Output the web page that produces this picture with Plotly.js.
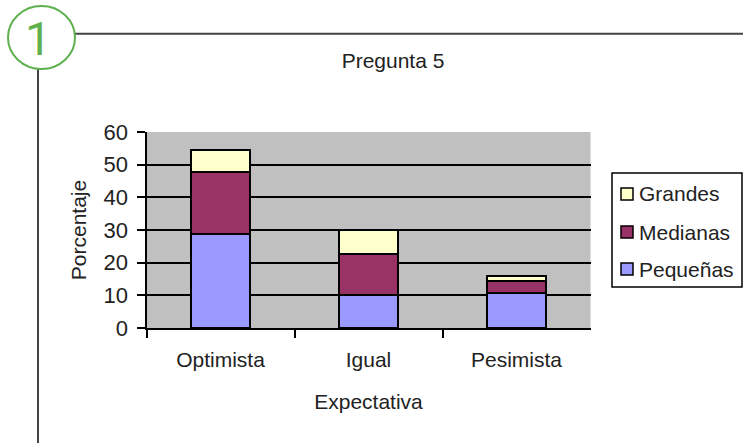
<!DOCTYPE html>
<html><head><meta charset="utf-8">
<script src="https://cdn.plot.ly/plotly-3.0.1.min.js"></script>
<style>html,body{margin:0;padding:0;background:#fff}</style></head>
<body><div id="chart" style="width:743px;height:443px"></div>
<script>
const categories = ["Optimista", "Igual", "Pesimista"];
const pequenas = [28.7, 10, 10.8];
const medianas = [19, 12.6, 3.6];
const grandes = [6.8, 7.4, 1.5];
const yTicks = [0, 10, 20, 30, 40, 50, 60];
const seriesNames = ["Pequeñas", "Medianas", "Grandes"];
const seriesColors = ["#9999ff", "#993366", "#ffffcc"];
const W = 743, H = 443;
const font = "Liberation Sans, Arial, sans-serif";
const ink = "#222";
const mk = (i, y) => ({type:"bar", name:seriesNames[i], x:categories, y, width:0.405,
  marker:{color:seriesColors[i], line:{color:"#000", width:2}}});
const data = [mk(0, pequenas), mk(1, medianas), mk(2, grandes)];

const px = v => v / W, py = v => 1 - v / H;
const legendRows = [[2, 194], [1, 232], [0, 269]];
const legendShapes = [{type:"rect", xref:"paper", yref:"paper", x0:px(612), x1:px(742), y0:py(287), y1:py(173),
  line:{color:"#000", width:1.5}, fillcolor:"#fff"}].concat(legendRows.map(([i, cy]) => (
  {type:"rect", xref:"paper", yref:"paper", x0:px(621), x1:px(633), y0:py(cy+6), y1:py(cy-6),
   line:{color:"#000", width:1.5}, fillcolor:seriesColors[i]})));
const legendTexts = legendRows.map(([i, cy]) => (
  {text:seriesNames[i], xref:"paper", yref:"paper", x:px(636.5), y:py(cy), showarrow:false, xanchor:"left", yanchor:"middle",
   font:{family:font, size:21, color:ink}}));

const layout = {
  width:W, height:H, margin:{l:0,r:0,t:0,b:0}, paper_bgcolor:"#fff", plot_bgcolor:"#c0c0c0",
  barmode:"stack", showlegend:false, font:{family:font, size:21, color:ink},
  title:{text:"Pregunta 5", x:393/W, xanchor:"center", y:py(61), yanchor:"middle", font:{family:font, size:21, color:ink}},
  xaxis:{domain:[146.5/W,590.5/W], tickson:"boundaries", ticks:"outside", ticklen:8, tickcolor:"#000", tickwidth:2,
    showline:true, linecolor:"#000", linewidth:2, showgrid:false, ticklabelstandoff:12,
    title:{text:"Expectativa", standoff:24, font:{family:font,size:21,color:ink}}, tickfont:{family:font,size:21,color:ink}},
  yaxis:{domain:[py(328),py(132)], range:[0,60], tickvals:yTicks, ticks:"outside", ticklen:8, tickcolor:"#000", tickwidth:2,
    showline:true, linecolor:"#000", linewidth:2, showgrid:true, gridcolor:"#000", gridwidth:2, zeroline:false, ticklabelstandoff:4,
    title:{text:"Porcentaje", standoff:11, font:{family:font,size:21,color:ink}}, tickfont:{family:font,size:22,color:ink}},
  shapes:[
    {type:"line", xref:"paper", yref:"paper", x0:px(75), x1:1, y0:py(33.7), y1:py(33.7), line:{color:"#444",width:2}},
    {type:"line", xref:"paper", yref:"paper", x0:px(38), x1:px(38), y0:py(69), y1:0, line:{color:"#444",width:2}},
    {type:"circle", xref:"paper", yref:"paper", x0:px(8), x1:px(75), y0:py(69), y1:py(6), line:{color:"#5fb04f",width:2}, fillcolor:"#fff"}
  ].concat(legendShapes),
  annotations:[{text:"1", xref:"paper", yref:"paper", x:px(38), y:py(38), showarrow:false, xanchor:"center", yanchor:"middle",
    font:{family:"Roboto, sans-serif", size:47, color:"#5fb04f"}}].concat(legendTexts)
};
Plotly.newPlot("chart", data, layout, {displayModeBar:false, staticPlot:true});
</script></body></html>
